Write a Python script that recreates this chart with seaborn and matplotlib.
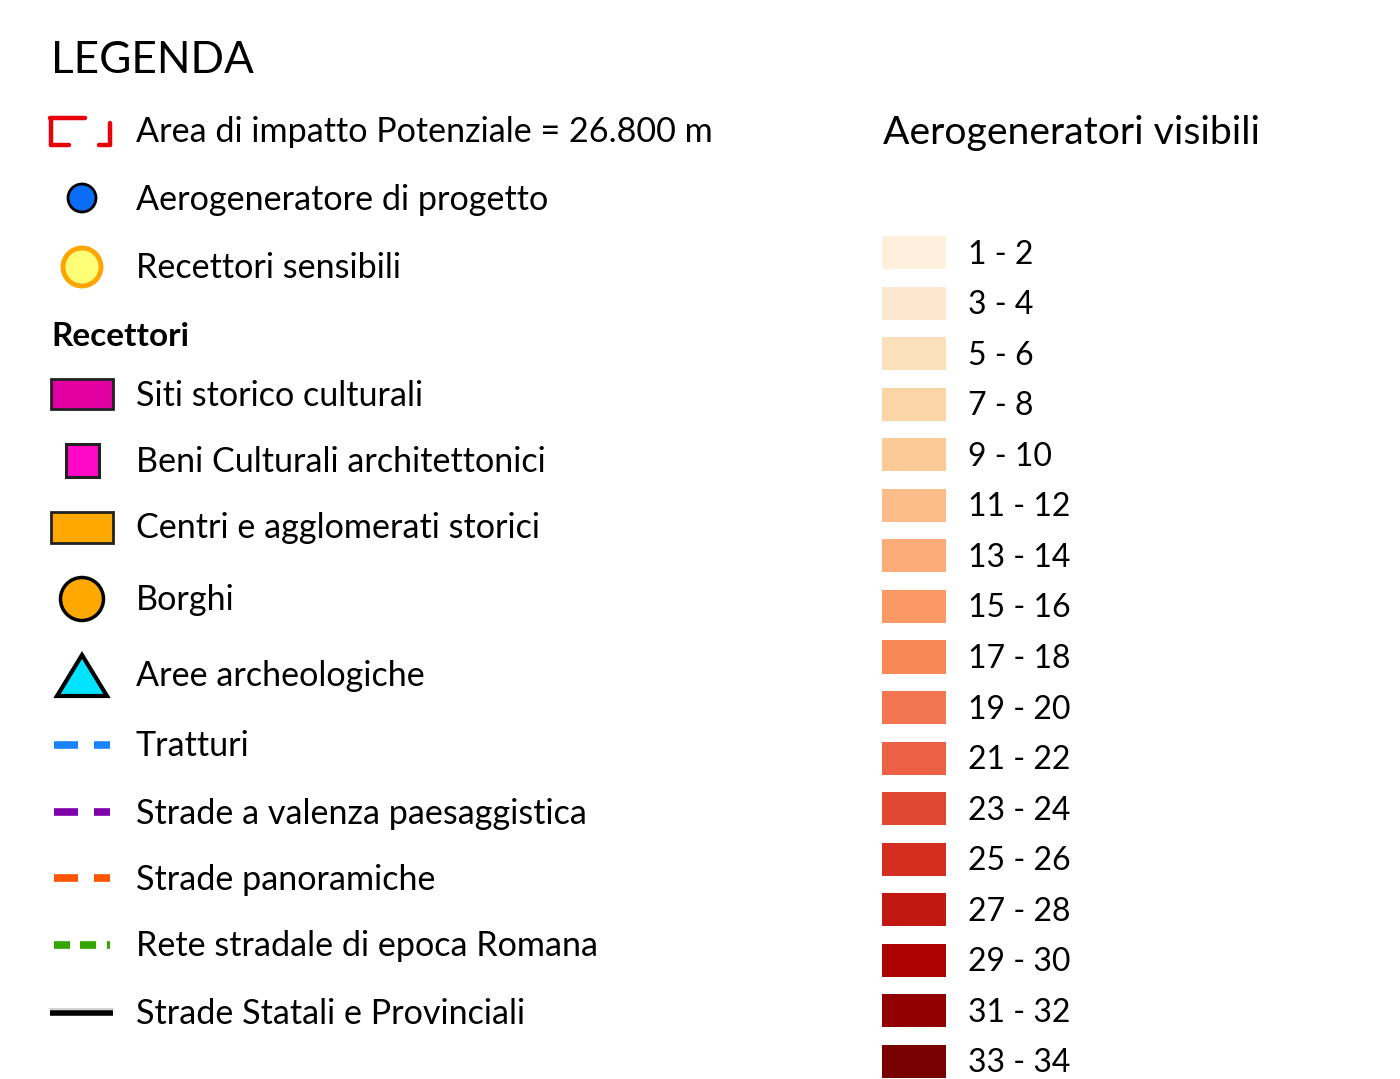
import matplotlib
matplotlib.use("Agg")
import matplotlib.pyplot as plt
import matplotlib.patches as mpatches
import seaborn as sns
import pandas as pd

# ---------------- data ----------------
title = "LEGENDA"
left_labels = [
    "Area di impatto Potenziale = 26.800 m",
    "Aerogeneratore di progetto",
    "Recettori sensibili",
    "Siti storico culturali",
    "Beni Culturali architettonici",
    "Centri e agglomerati storici",
    "Borghi",
    "Aree archeologiche",
    "Tratturi",
    "Strade a valenza paesaggistica",
    "Strade panoramiche",
    "Rete stradale di epoca Romana",
    "Strade Statali e Provinciali",
]
section_label = "Recettori"
ramp_title = "Aerogeneratori visibili"
ramp_labels = ["1 - 2", "3 - 4", "5 - 6", "7 - 8", "9 - 10", "11 - 12", "13 - 14",
               "15 - 16", "17 - 18", "19 - 20", "21 - 22", "23 - 24", "25 - 26",
               "27 - 28", "29 - 30", "31 - 32", "33 - 34"]
ramp_colors = ["#FEF0DD", "#FDE7CF", "#FCDFBB", "#FCD5A7", "#FCCA97", "#FCBD89",
               "#FCAC79", "#FC9866", "#F98857", "#F27651", "#EC6046", "#E04834",
               "#D42E21", "#C21812", "#AE0200", "#920000", "#780000"]

# ---------------- style ----------------
sns.set_theme(style="white")
plt.rcParams["font.family"] = ["Lato", "DejaVu Sans"]

W, H = 1400, 1079
fig = plt.figure(figsize=(W / 100, H / 100), dpi=100)
ax = fig.add_axes([0, 0, 1, 1])
ax.set_xlim(0, W)
ax.set_ylim(H, 0)
ax.axis("off")

FS = 24.6
TX = 136

ax.text(51, 73, title, fontsize=31.8, va="baseline", ha="left", color="black")

# row centres of the left legend
row_y = [130, 198, 267, 394, 460, 527, 599, 674, 745, 812, 878, 945, 1012]
for lab, y in zip(left_labels, row_y):
    ax.text(TX, y + 11.5, lab, fontsize=FS, va="baseline", ha="left", color="black")
ax.text(51, 346, section_label, fontsize=24, fontweight="bold", va="baseline",
        ha="left", color="black")

# --- symbols ---
red = "#E8000B"
y0 = row_y[0]
for xs, ys in [([50, 85], [y0 - 12, y0 - 12]), ([51, 51], [y0 - 12, y0 + 15]),
               ([51, 69], [y0 + 15, y0 + 15]), ([110, 110], [y0 - 7, y0 + 15]),
               ([99, 110], [y0 + 15, y0 + 15])]:
    ax.plot(xs, ys, color=red, lw=3.2, solid_capstyle="round")

ax.add_patch(mpatches.Circle((82, row_y[1]), 14, facecolor="#0A6CF7", edgecolor="black", lw=2))
ax.add_patch(mpatches.Circle((82, row_y[2]), 19, facecolor="#FFFF77", edgecolor="#FFA500", lw=3.5))
ax.add_patch(mpatches.Rectangle((51, row_y[3] - 15), 62, 30, facecolor="#E300A3",
                                edgecolor="#222222", lw=2))
ax.add_patch(mpatches.Rectangle((66, row_y[4] - 16), 33, 33, facecolor="#FF08C6",
                                edgecolor="#222222", lw=2.2))
ax.add_patch(mpatches.Rectangle((51, row_y[5] - 15), 62, 31, facecolor="#FFA800",
                                edgecolor="#222222", lw=2))
ax.add_patch(mpatches.Circle((82, row_y[6]), 21.5, facecolor="#FFA800", edgecolor="black", lw=2.5))
ax.add_patch(mpatches.Polygon([(57, 696), (107, 696), (82, 655)], closed=True,
                              facecolor="#00E3FF", edgecolor="black", lw=3, joinstyle="miter"))

dash_colors = ["#1A84FF", "#8000AA", "#FF5500"]
for c, y in zip(dash_colors, row_y[8:11]):
    ax.plot([53.5, 77.5], [y, y], color=c, lw=5.5, solid_capstyle="butt")
    ax.plot([93.5, 110], [y, y], color=c, lw=5.5, solid_capstyle="butt")
yg = row_y[11]
for a, b in [(53.5, 69.5), (80, 96), (107, 110)]:
    ax.plot([a, b], [yg, yg], color="#33A600", lw=5.5, solid_capstyle="butt")
yb = row_y[12]
ax.plot([50, 113], [yb - 3, yb - 3], color="#CCCCCC", lw=1.2)
ax.plot([50, 113], [yb + 1, yb + 1], color="black", lw=4, solid_capstyle="butt")

# --- colour ramp (seaborn bars) ---
ax.text(883, 144, ramp_title, fontsize=28.2, va="baseline", ha="left", color="black")
first, step = 252.5, 50.56
n = len(ramp_labels)
top_px, bot_px = first - step / 2, H
axr = fig.add_axes([882 / W, 1 - bot_px / H, 64 / W, (bot_px - top_px) / H])
df = pd.DataFrame({"cls": ramp_labels, "v": [1] * n})
sns.barplot(data=df, x="v", y="cls", hue="cls", palette=ramp_colors, orient="h",
            width=0.655, legend=False, ax=axr, linewidth=0, saturation=1)
axr.set_xlim(0, 1)
axr.set_ylim((bot_px - first) / step, -0.5)
axr.axis("off")
for i, lab in enumerate(ramp_labels):
    ax.text(968, first + i * step + 11, lab, fontsize=23, va="baseline", ha="left", color="black")

fig.savefig("out.png", dpi=100)
